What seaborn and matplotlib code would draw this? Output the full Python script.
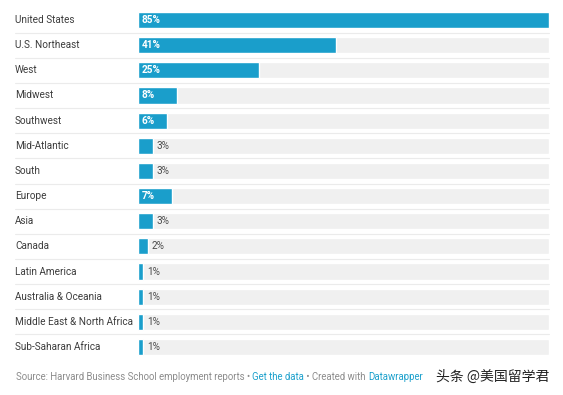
"""
Horizontal bar chart: HBS graduates' job locations (Datawrapper style).
"""
import pandas as pd
import matplotlib.pyplot as plt
import seaborn as sns

regions = ["United States", "U.S. Northeast", "West", "Midwest", "Southwest",
           "Mid-Atlantic", "South", "Europe", "Asia", "Canada", "Latin America",
           "Australia & Oceania", "Middle East & North Africa", "Sub-Saharan Africa"]
shares = [85, 41, 25, 8, 6, 3, 3, 7, 3, 2, 1, 1, 1, 1]
# labels drawn inside the bar (white bold) vs outside (grey)
inside = [True, True, True, True, True, False, False, True, False, False,
          False, False, False, False]

BAR = "#1a9ecb"
TRACK = "#f0f0f0"
TEXT = "#3c3c3c"
LINK = "#1ba0cc"

sns.set_theme(style="white")
plt.rcParams["font.family"] = ["Roboto", "DejaVu Sans"]

df = pd.DataFrame({"region": regions, "share": shares})
df["track"] = max(shares)

W, H = 563, 395
fig = plt.figure(figsize=(W / 100, H / 100), dpi=100)
ax = fig.add_axes([138 / W, 1 - 359.6 / H, 411 / W, 352.2 / H])

sns.barplot(data=df, y="region", x="track", color=TRACK, width=0.64,
            ax=ax, saturation=1)
sns.barplot(data=df, y="region", x="share", color=BAR, width=0.64,
            ax=ax, saturation=1)

ax.set_xlim(0, max(shares))
ax.set_ylim(len(regions) - 0.5, -0.5)
ax.set_xlabel("")
ax.set_ylabel("")
ax.set_xticks([])
ax.set_yticks([])
for s in ax.spines.values():
    s.set_visible(False)

# row separators extending under the labels
for i in range(len(regions) - 1):
    ax.axhline(i + 0.5, xmin=-0.30, xmax=1.0, color="#ebebeb", lw=0.8,
               clip_on=False, zorder=0)

for i, (name, v, ins) in enumerate(zip(regions, shares, inside)):
    ax.text(-123 / 411 * max(shares), i, name, ha="left", va="center",
            fontsize=7.2, color=TEXT)
    if ins:
        ax.text(0.8, i, f"{v}%", ha="left", va="center", fontsize=7.2,
                color="white", fontweight="bold")
    else:
        ax.text(v + 0.9, i, f"{v}%", ha="left", va="center", fontsize=7.2,
                color="#4a4a4a")

# footer line built piece by piece
pieces = [("Source: Harvard Business School employment reports • ", "#8c8c8c"),
          ("Get the data", LINK),
          (" • Created with ", "#8c8c8c"),
          ("Datawrapper", LINK)]
fig.canvas.draw()
renderer = fig.canvas.get_renderer()
x = 16 / W
y = 1 - 377 / H
for txt, col in pieces:
    t = fig.text(x, y, txt, ha="left", va="center", fontsize=6.9, color=col)
    bb = t.get_window_extent(renderer=renderer)
    x += bb.width / W

fig.text(436 / W, y, "头条 @美国留学君", ha="left", va="center", fontsize=10,
         color="#222222", family=["Noto Sans CJK SC", "DejaVu Sans"])

fig.savefig("out.png", dpi=100)
